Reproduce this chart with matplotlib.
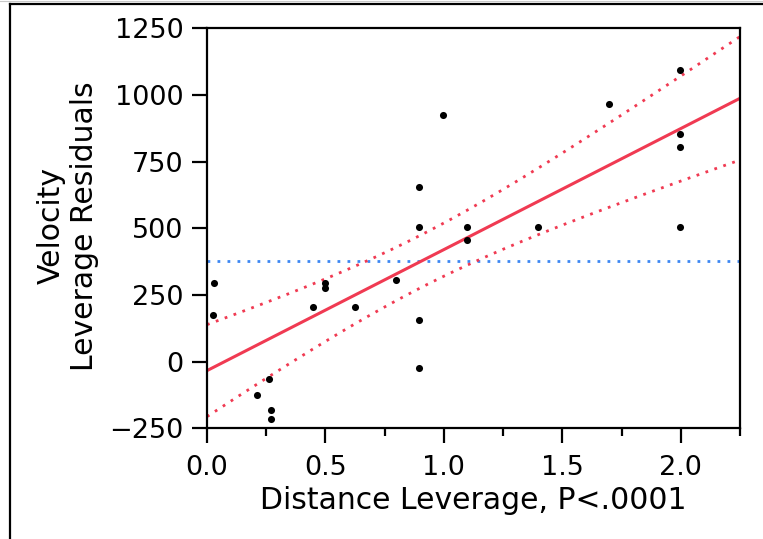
import numpy as np
import matplotlib
matplotlib.use('Agg')
import matplotlib.pyplot as plt
from matplotlib.lines import Line2D
from matplotlib.ticker import MultipleLocator

# leverage plot data
dist_lev = [0.03, 0.025, 0.21, 0.26, 0.27, 0.27, 0.446, 0.497, 0.497, 0.626,
            0.796, 0.895, 0.895, 0.895, 0.895, 0.996, 1.096, 1.096, 1.396, 1.696,
            1.997, 1.997, 1.997, 1.997]
vel_res = [295, 175, -125, -66, -180, -215, 205, 295, 275, 205,
           305, 505, 655, 155, -25, 925, 505, 455, 505, 965,
           1095, 855, 805, 505]

x_ticks = [0.0, 0.5, 1.0, 1.5, 2.0]
x_tick_labels = ['0.0', '0.5', '1.0', '1.5', '2.0']
y_ticks = [-250, 0, 250, 500, 750, 1000, 1250]
y_tick_labels = ['\u2212250', '0', '250', '500', '750', '1000', '1250']

t_crit = 2.074  # t(0.975, 22)

x = np.array(dist_lev)
y = np.array(vel_res)
n = len(x)
slope, intercept = np.polyfit(x, y, 1)
resid = y - (slope * x + intercept)
s = np.sqrt(np.sum(resid ** 2) / (n - 2))
xbar = x.mean()
sxx = np.sum((x - xbar) ** 2)

xs = np.linspace(0, 2.25, 300)
fit = slope * xs + intercept
half = t_crit * s * np.sqrt(1 / n + (xs - xbar) ** 2 / sxx)

red = '#f03a52'
blue = '#3d87f2'

fig = plt.figure(figsize=(7.63, 5.39), dpi=100)
ax = fig.add_axes([207 / 763, 1 - 428.3 / 539, 533 / 763, 400 / 539])

ax.axhline(y.mean(), color=blue, lw=2, ls=(0, (1, 2.6)), zorder=1)
ax.plot(xs, fit, color=red, lw=2.2, zorder=2)
ax.plot(xs, fit + half, color=red, lw=2, ls=(0, (1, 2.4)), zorder=2)
ax.plot(xs, fit - half, color=red, lw=2, ls=(0, (1, 2.4)), zorder=2)
ax.scatter(x, y, s=26, color='black', zorder=3, linewidths=0)

ax.set_xlim(0, 2.25)
ax.set_ylim(-250, 1250)
ax.set_xticks(x_ticks)
ax.set_xticklabels(x_tick_labels)
ax.set_yticks(y_ticks)
ax.set_yticklabels(y_tick_labels)
ax.xaxis.set_minor_locator(MultipleLocator(0.25))

for sp in ax.spines.values():
    sp.set_linewidth(1.6)
ax.tick_params(axis='both', which='major', length=11, width=1.6, labelsize=19.5, pad=6)
ax.tick_params(axis='x', which='minor', length=6, width=1.6)
ax.tick_params(axis='x', which='major', pad=8)

ax.set_xlabel('Distance Leverage, P<.0001', fontsize=21.5, labelpad=4)
fig.text(68 / 763, 1 - 226 / 539, 'Velocity\nLeverage Residuals', rotation=90,
         ha='center', va='center', multialignment='center', fontsize=21.5,
         linespacing=1.2)

# outer frame of the report
fig.add_artist(Line2D([10 / 763, 10 / 763], [0, 1 - 4 / 539], color='black', lw=1.6))
fig.add_artist(Line2D([10 / 763, 1], [1 - 4 / 539, 1 - 4 / 539], color='black', lw=1.6))
fig.add_artist(Line2D([0, 1], [1 - 1 / 539, 1 - 1 / 539], color='#c8c8c8', lw=0.8))

fig.savefig('out.png', dpi=100)
